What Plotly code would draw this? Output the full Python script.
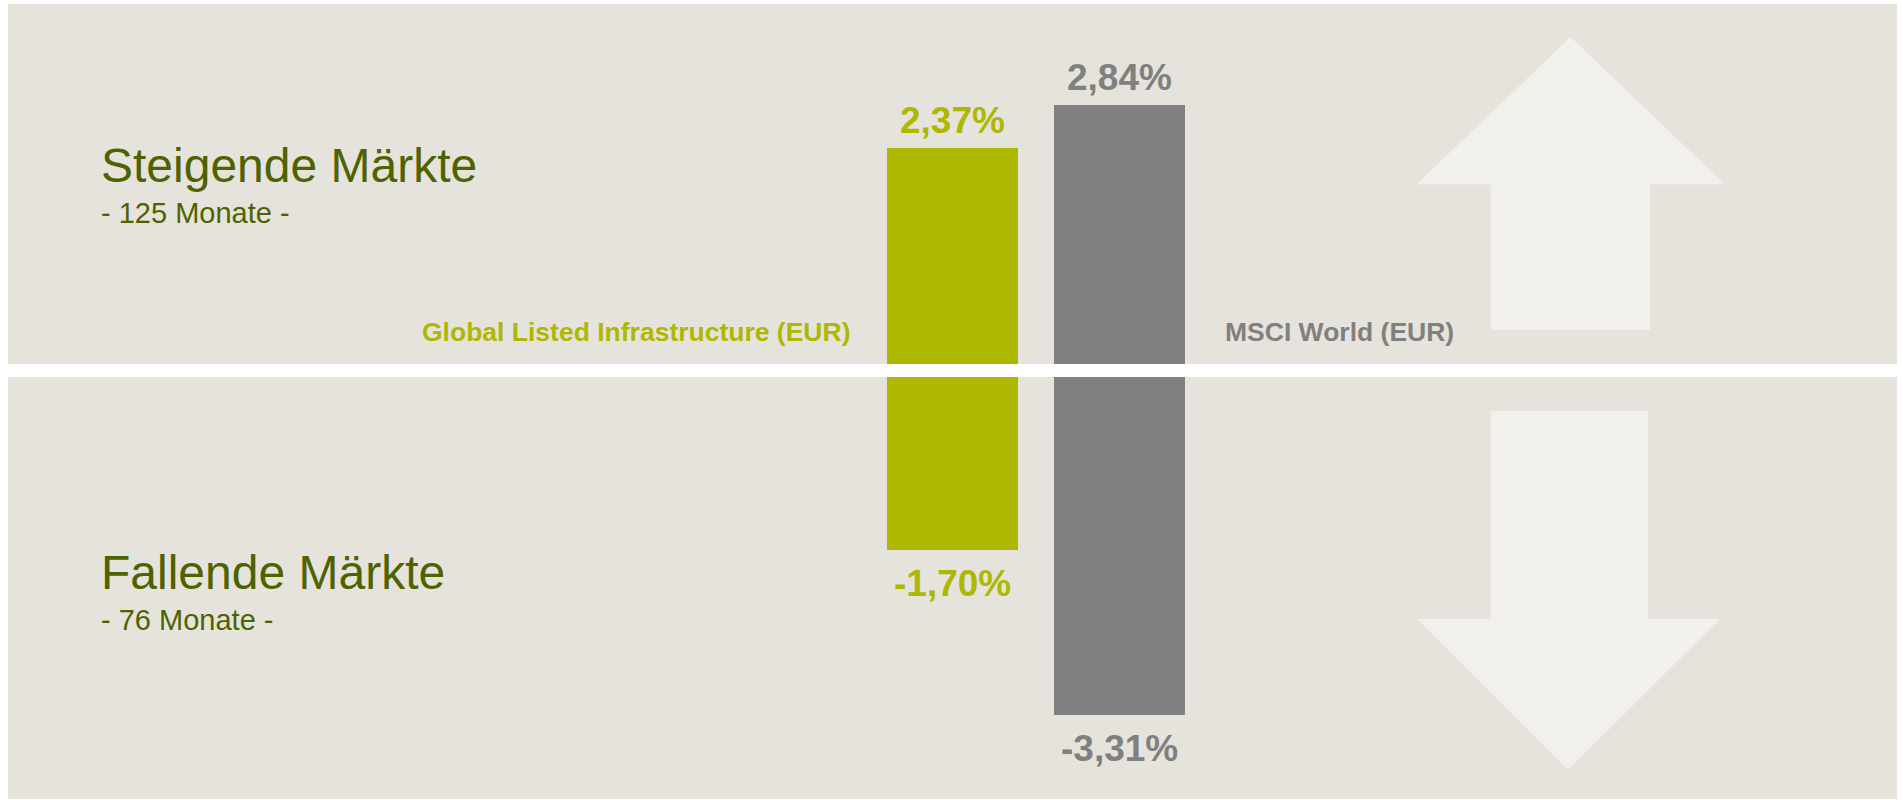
import plotly.graph_objects as go

# ---- data ----
categories = ["Global Listed Infrastructure (EUR)", "MSCI World (EUR)"]
rising_returns = [2.37, 2.84]
falling_returns = [-1.70, -3.31]
rising_title = "Steigende Märkte"
rising_months = 125
falling_title = "Fallende Märkte"
falling_months = 76

# ---- styles ----
W, H = 1903, 800
GREEN = "#AEB800"
GRAY = "#808080"
OLIVE = "#4E6300"
PANEL = "#E6E3DD"
ARROW = "#F1F0EC"
FONT = "Arial, 'Liberation Sans', sans-serif"
bar_colors = [GREEN, GRAY]


def px(x):
    return x / W


def py(y):
    return 1 - y / H


def fmt(v):
    return f"{v:.2f}".replace(".", ",") + "%"


xpos = list(range(len(categories)))

fig = go.Figure()
fig.add_trace(go.Bar(x=xpos, y=rising_returns, marker=dict(color=bar_colors, line=dict(width=0)),
                     width=0.784, xaxis="x", yaxis="y", hoverinfo="skip", showlegend=False))
fig.add_trace(go.Bar(x=xpos, y=falling_returns, marker=dict(color=bar_colors, line=dict(width=0)),
                     width=0.784, xaxis="x2", yaxis="y2", hoverinfo="skip", showlegend=False))

xr = [-952.5 / 167, (W - 952.5) / 167]
top_k = 91.2
bot_k = 102.0

annotations = []
for i, v in enumerate(rising_returns):
    annotations.append(dict(x=i, y=v, xref="x", yref="y", text=fmt(v), showarrow=False,
                            yanchor="bottom", yshift=5,
                            font=dict(family=FONT, size=37, color=bar_colors[i], weight="bold")))
for i, v in enumerate(falling_returns):
    annotations.append(dict(x=i, y=v, xref="x2", yref="y2", text=fmt(v), showarrow=False,
                            yanchor="top", yshift=-11,
                            font=dict(family=FONT, size=37, color=bar_colors[i], weight="bold")))

# category labels next to bars
annotations.append(dict(x=0, y=0, xref="x", yref="y", text=categories[0], showarrow=False,
                        xanchor="right", yanchor="bottom", xshift=-100.5, yshift=15,
                        font=dict(family=FONT, size=26.5, color=GREEN, weight="bold")))
annotations.append(dict(x=1, y=0, xref="x", yref="y", text=categories[1], showarrow=False,
                        xanchor="left", yanchor="bottom", xshift=103.5, yshift=15,
                        font=dict(family=FONT, size=26.5, color=GRAY, weight="bold")))

# panel titles
annotations += [
    dict(x=px(99), y=py(165), xref="paper", yref="paper", text=rising_title, showarrow=False,
         xanchor="left", yanchor="middle", font=dict(family=FONT, size=48, color=OLIVE)),
    dict(x=px(99), y=py(213), xref="paper", yref="paper", text=f"- {rising_months} Monate -",
         showarrow=False, xanchor="left", yanchor="middle", font=dict(family=FONT, size=29, color=OLIVE)),
    dict(x=px(99), y=py(572), xref="paper", yref="paper", text=falling_title, showarrow=False,
         xanchor="left", yanchor="middle", font=dict(family=FONT, size=48, color=OLIVE)),
    dict(x=px(99), y=py(620), xref="paper", yref="paper", text=f"- {falling_months} Monate -",
         showarrow=False, xanchor="left", yanchor="middle", font=dict(family=FONT, size=29, color=OLIVE)),
]


def path(points):
    return "M " + " L ".join(f"{px(x):.5f},{py(y):.5f}" for x, y in points) + " Z"


up_arrow = [(1570.5, 37), (1725, 184.5), (1650, 184.5), (1650, 330), (1491, 330),
            (1491, 184.5), (1416.5, 184.5)]
down_arrow = [(1491, 411), (1648, 411), (1648, 619), (1720, 619), (1568, 770),
              (1417, 619), (1491, 619)]

shapes = [
    dict(type="rect", xref="paper", yref="paper", x0=px(8), x1=px(1897), y0=py(364), y1=py(4),
         fillcolor=PANEL, line=dict(width=0), layer="below"),
    dict(type="rect", xref="paper", yref="paper", x0=px(8), x1=px(1897), y0=py(799), y1=py(377),
         fillcolor=PANEL, line=dict(width=0), layer="below"),
    dict(type="path", xref="paper", yref="paper", path=path(up_arrow), fillcolor=ARROW,
         line=dict(width=0), layer="below"),
    dict(type="path", xref="paper", yref="paper", path=path(down_arrow), fillcolor=ARROW,
         line=dict(width=0), layer="below"),
]

axis_common = dict(visible=False, showgrid=False, zeroline=False, fixedrange=True)
fig.update_layout(
    width=W, height=H,
    margin=dict(l=0, r=0, t=0, b=0),
    paper_bgcolor="white", plot_bgcolor="rgba(0,0,0,0)",
    xaxis=dict(domain=[0, 1], range=xr, anchor="y", **axis_common),
    xaxis2=dict(domain=[0, 1], range=xr, anchor="y2", **axis_common),
    yaxis=dict(domain=[py(364), py(4)], range=[0, 360 / top_k], anchor="x", **axis_common),
    yaxis2=dict(domain=[0, py(377)], range=[-423 / bot_k, 0], anchor="x2", **axis_common),
    annotations=annotations,
    shapes=shapes,
    bargap=0,
    showlegend=False,
)

fig.write_html("out.html", config={"displayModeBar": False},
               post_script="document.body.style.margin='0';document.body.style.overflow='hidden';")
